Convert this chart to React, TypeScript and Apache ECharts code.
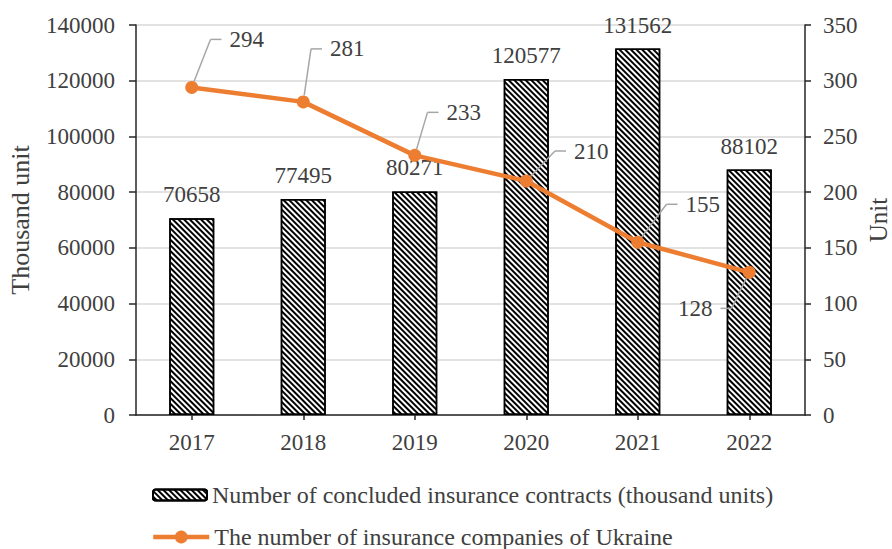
import React, { useEffect, useRef } from "react";
import * as echarts from "echarts";

const years = ["2017", "2018", "2019", "2020", "2021", "2022"];
const contracts = [70658, 77495, 80271, 120577, 131562, 88102];
const companies = [294, 281, 233, 210, 155, 128];
// offsets of the line labels' text centres from their points
const labelDx = [55, 44, 49, 65, 65, -54];
const labelDy = [-48, -53, -43, -30, -38, 36];

const barName = "Number of concluded insurance contracts (thousand units)";
const lineName = "The number of insurance companies of Ukraine";

const FONT = "Liberation Serif";
const TXT = "#404040";
const AX = "#262626";
const GUIDE = "#a6a6a6";
const STUB = 11; // horizontal stub of the leader line
const GAP = 8; // gap between stub and text

export default function App() {
  const ref = useRef<HTMLDivElement>(null);
  useEffect(() => {
    if (!ref.current) return;
    const chart = echarts.init(ref.current, null, { renderer: "svg" });
    const decal = {
      symbol: "rect",
      symbolSize: 1,
      color: "#000",
      backgroundColor: "#fff",
      dashArrayX: [1, 0],
      dashArrayY: [1.5, 2],
      rotation: Math.PI / 4,
    };
    const legendText = { fontSize: 24, fontFamily: FONT, color: TXT };
    const shift = (STUB + GAP) / 2;
    chart.setOption({
      animation: false,
      backgroundColor: "#fff",
      textStyle: { fontFamily: FONT },
      grid: { left: 136, right: 87, top: 25, bottom: 134, outerBoundsMode: "none" },
      legend: [
        {
          left: 147,
          top: 478,
          itemWidth: 54,
          itemHeight: 11,
          textStyle: legendText,
          data: [barName],
        },
        {
          left: 146,
          top: 520,
          itemWidth: 56,
          itemHeight: 16,
          textStyle: legendText,
          lineStyle: { width: 4.5 },
          data: [lineName],
        },
      ],
      xAxis: {
        type: "category",
        data: years,
        axisLine: { lineStyle: { color: AX, width: 1.5 } },
        axisTick: { show: true, alignWithLabel: true, length: 5, lineStyle: { color: AX, width: 1.5 } },
        axisLabel: { fontSize: 23, fontFamily: FONT, color: TXT, margin: 16 },
      },
      yAxis: [
        {
          type: "value",
          min: 0,
          max: 140000,
          interval: 20000,
          name: "Thousand unit",
          nameLocation: "middle",
          nameRotate: 90,
          nameGap: 103,
          nameMoveOverlap: false,
          nameTextStyle: { fontSize: 26, fontFamily: FONT, color: TXT },
          axisLine: { show: true, lineStyle: { color: AX, width: 1.5 } },
          axisTick: { show: true, length: 7, lineStyle: { color: AX, width: 1.5 } },
          axisLabel: { fontSize: 23, fontFamily: FONT, color: TXT, margin: 21, formatter: (v: number) => String(v) },
          splitLine: { lineStyle: { color: "#d9d9d9", width: 1.5 } },
        },
        {
          type: "value",
          min: 0,
          max: 350,
          interval: 50,
          name: "Unit",
          nameLocation: "middle",
          nameRotate: 90,
          nameGap: 61,
          nameMoveOverlap: false,
          nameTextStyle: { fontSize: 25, fontFamily: FONT, color: TXT },
          axisLine: { show: true, lineStyle: { color: AX, width: 1.5 } },
          axisTick: { show: true, length: 6, lineStyle: { color: AX, width: 1.5 } },
          axisLabel: { fontSize: 23, fontFamily: FONT, color: TXT, margin: 18, formatter: (v: number) => String(v) },
          splitLine: { show: false },
        },
      ],
      series: [
        {
          name: barName,
          type: "bar",
          data: contracts,
          barWidth: 45,
          itemStyle: { color: "#fff", borderColor: "#000", borderWidth: 1.5, decal },
          label: {
            show: true,
            position: "top",
            distance: 12,
            fontSize: 23,
            fontFamily: FONT,
            color: TXT,
            formatter: (p: any) => String(p.value),
          },
        },
        {
          name: lineName,
          type: "line",
          yAxisIndex: 1,
          data: companies,
          symbol: "circle",
          symbolSize: 13,
          lineStyle: { color: "#ED7D31", width: 4.5 },
          itemStyle: { color: "#ED7D31" },
          label: {
            show: true,
            position: "inside",
            formatter: (p: any) =>
              labelDx[p.dataIndex] > 0
                ? `{s|}{g|}{v|${p.value}}`
                : `{v|${p.value}}{g|}{s|}`,
            rich: {
              v: { fontSize: 23, fontFamily: FONT, color: TXT, lineHeight: 14 },
              g: { width: GAP, height: 1, lineHeight: 14 },
              s: { width: STUB, height: 1.5, lineHeight: 14, backgroundColor: GUIDE },
            },
          },
          labelLine: {
            show: true,
            length2: 0,
            lineStyle: { color: GUIDE, width: 1.5 },
          },
          labelLayout: (p: any) => {
            const dx = labelDx[p.dataIndex];
            return { dx: dx > 0 ? dx - shift : dx + shift, dy: labelDy[p.dataIndex] };
          },
          z: 3,
        },
      ],
    });
    return () => chart.dispose();
  }, []);
  return (
    <div
      ref={ref}
      style={{ position: "fixed", left: 0, top: 0, width: 892, height: 549 }}
    />
  );
}
